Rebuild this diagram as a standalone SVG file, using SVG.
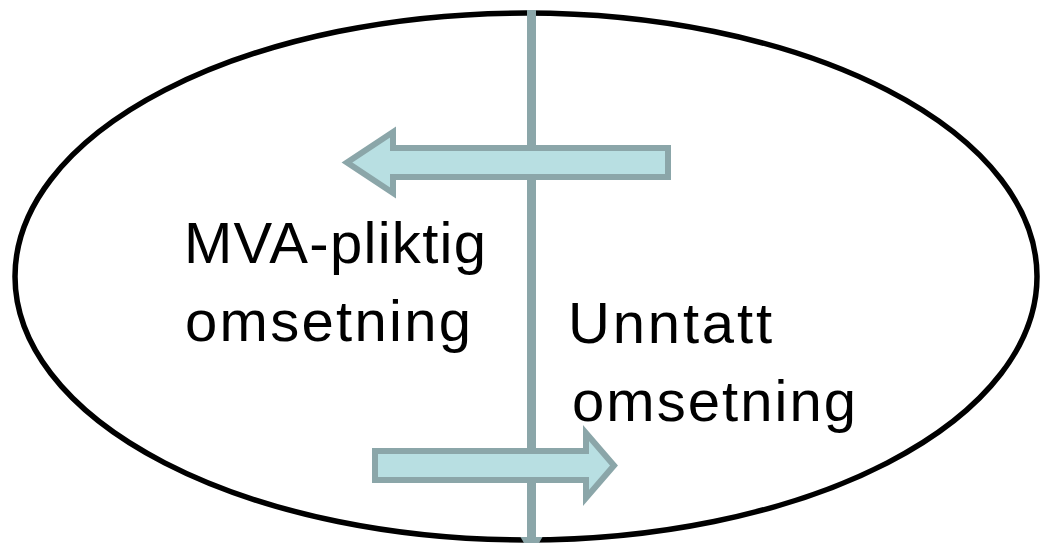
<svg xmlns="http://www.w3.org/2000/svg" width="1041" height="543" viewBox="0 0 1041 543">
<style>
.arrow{fill:#B8DFE2;stroke:#8BA6A9;stroke-width:6;stroke-linejoin:miter}
.axis{stroke:#8BA6A9;stroke-width:9;fill:none}
.lbl{font-family:"Liberation Sans",Arial,sans-serif;font-size:58px;fill:#000}
</style>
<g id="boundary">
<ellipse cx="526" cy="276.5" rx="511" ry="263.5" fill="#fff" stroke="#000" stroke-width="5.5"/>
</g>
<g id="connectors">
<line class="axis" x1="531.5" y1="10" x2="531.5" y2="538"/>
<polygon points="520.5,537 542.5,537 531.5,556" fill="#8BA6A9"/>
</g>
<g id="arrow-left">
<polygon class="arrow" points="668,148 393,148 393,132 347,162.5 393,193 393,177 668,177"/>
</g>
<g id="arrow-right">
<polygon class="arrow" points="375,451 586,451 586,433 614,465.5 586,498 586,480 375,480"/>
</g>
<g id="label-mva">
<text class="lbl" x="184" y="263" textLength="302" lengthAdjust="spacing">MVA-pliktig</text>
<text class="lbl" x="185" y="341" textLength="286" lengthAdjust="spacing">omsetning</text>
</g>
<g id="label-unntatt">
<text class="lbl" x="568" y="343" textLength="204" lengthAdjust="spacing">Unntatt</text>
<text class="lbl" x="572" y="421" textLength="284" lengthAdjust="spacing">omsetning</text>
</g>
</svg>
